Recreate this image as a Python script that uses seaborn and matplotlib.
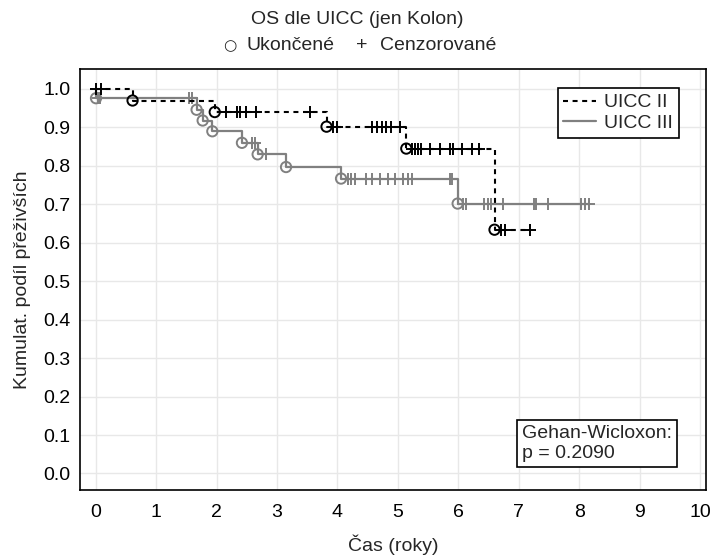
import numpy as np
import pandas as pd
import matplotlib
matplotlib.use("Agg")
import matplotlib.pyplot as plt
from matplotlib.lines import Line2D
import seaborn as sns

# ---- Kaplan-Meier estimates (time in years) ----
# UICC II: event times, survival after each event, censored times
ii_event_t = [0.61, 1.97, 3.82, 5.14, 6.60]
ii_event_s = [0.970, 0.940, 0.902, 0.845, 0.634]
ii_cens_t = [0.01, 0.09, 2.16, 2.33, 2.38, 2.49, 2.66, 3.54, 3.92, 4.00,
             4.58, 4.66, 4.74, 4.81, 4.89, 5.03, 5.24, 5.29, 5.34, 5.39,
             5.53, 5.69, 5.87, 5.91, 6.07, 6.22, 6.35, 6.71, 6.77, 7.18]

# UICC III
iii_event_t = [0.005, 1.67, 1.77, 1.93, 2.42, 2.68, 3.15, 4.06, 5.99]
iii_event_s = [0.976, 0.946, 0.918, 0.890, 0.860, 0.830, 0.797, 0.767, 0.702]
iii_cens_t = [0.03, 0.07, 1.55, 1.60, 2.59, 2.63, 2.82, 4.17, 4.23, 4.29,
              4.48, 4.58, 4.70, 4.83, 4.96, 5.08, 5.16, 5.24, 5.86, 5.90,
              6.08, 6.13, 6.43, 6.49, 6.55, 6.74, 7.26, 7.29, 7.48, 8.03,
              8.09, 8.17]

group_names = ["UICC II", "UICC III"]
x_ticks = list(range(0, 11))
y_ticks = [round(0.1 * i, 1) for i in range(0, 11)]

title = "OS dle UICC (jen Kolon)"
event_label = "Ukončené"
censor_label = "Cenzorované"
x_label = "Čas (roky)"
y_label = "Kumulat. podíl přeživších"
test_note = "Gehan-Wicloxon:\np = 0.2090"

FS = 14


def step_table(event_t, event_s, cens_t):
    t = [0.0] + list(event_t)
    s = [1.0] + list(event_s)
    end = max(max(cens_t), max(event_t))
    t.append(end)
    s.append(s[-1])
    return pd.DataFrame({"t": t, "s": s})


def surv_at(times, event_t, event_s):
    ev = np.asarray(event_t)
    sv = np.asarray(event_s)
    out = []
    for x in times:
        idx = np.searchsorted(ev, x, side="right") - 1
        out.append(1.0 if idx < 0 else float(sv[idx]))
    return out


sns.set_theme(style="whitegrid")
plt.rcParams["font.family"] = ["Liberation Sans", "DejaVu Sans"]

fig = plt.figure(figsize=(7.14, 5.6), dpi=100)
ax = fig.add_axes([80 / 714, 1 - 490 / 560, (706 - 80) / 714, (490 - 69) / 560])

styles = {
    "UICC II": dict(color="black", ls=(0, (2.4, 2.2)), lw=1.5, zorder=4),
    "UICC III": dict(color="#808080", ls="-", lw=1.6, zorder=3),
}
data = {
    "UICC II": (ii_event_t, ii_event_s, ii_cens_t),
    "UICC III": (iii_event_t, iii_event_s, iii_cens_t),
}

for name in ["UICC III", "UICC II"]:
    et, es, ct = data[name]
    st = styles[name]
    tab = step_table(et, es, ct)
    sns.lineplot(data=tab, x="t", y="s", ax=ax, drawstyle="steps-post",
                 color=st["color"], linestyle=st["ls"], linewidth=st["lw"],
                 zorder=st["zorder"], estimator=None, sort=False)
    ev = pd.DataFrame({"t": et, "s": es})
    sns.scatterplot(data=ev, x="t", y="s", ax=ax, marker="o", s=55,
                    facecolor="none", edgecolor=st["color"], linewidth=1.4,
                    zorder=st["zorder"] + 1)
    ce = pd.DataFrame({"t": ct, "s": surv_at(ct, et, es)})
    sns.scatterplot(data=ce, x="t", y="s", ax=ax, marker="+", s=70,
                    color=st["color"], linewidth=1.4, zorder=st["zorder"] + 1)

ax.set_xlim(-0.26, 10.1)
ax.set_ylim(-0.043, 1.052)
ax.set_xticks(x_ticks)
ax.set_yticks(y_ticks)
ax.set_yticklabels([f"{v:.1f}" for v in y_ticks])
ax.tick_params(axis="both", direction="in", length=5, width=1, color="black",
               labelsize=FS, labelcolor="black", pad=7)
ax.tick_params(axis="x", pad=10)
ax.grid(True, color="#e8e8e8", linewidth=1)
for sp in ax.spines.values():
    sp.set_visible(True)
    sp.set_color("black")
    sp.set_linewidth(1.2)
ax.set_facecolor("white")
ax.set_xlabel(x_label, fontsize=FS, labelpad=10)
ax.set_ylabel(y_label, fontsize=FS, labelpad=9)

handles = [Line2D([0], [0], color=styles[n]["color"], linestyle=styles[n]["ls"],
                  linewidth=styles[n]["lw"]) for n in group_names]
leg = ax.legend(handles, group_names, loc="upper right",
                bbox_to_anchor=(679 / 714, 1 - 88 / 560),
                bbox_transform=fig.transFigure, borderaxespad=0,
                fancybox=False, framealpha=1, edgecolor="black",
                fontsize=FS, handlelength=1.65, handletextpad=0.45,
                borderpad=0.3, labelspacing=0.15)
leg.get_frame().set_linewidth(1.2)

# title and marker key
fig.text(357 / 714, 1 - 20 / 560, title, ha="center", va="center", fontsize=FS)
fig.text(230 / 714, 1 - 46 / 560, "\u25cb", ha="center", va="center",
         fontsize=FS - 3, family=["DejaVu Sans"])
fig.text(246 / 714, 1 - 46 / 560, event_label, ha="left", va="center", fontsize=FS)
fig.text(362 / 714, 1 - 46 / 560, "+", ha="center", va="center", fontsize=FS)
fig.text(380 / 714, 1 - 46 / 560, censor_label, ha="left", va="center", fontsize=FS)

fig.text(522 / 714, 1 - 425 / 560, test_note, ha="left", va="top", fontsize=FS,
         linespacing=1.2,
         bbox=dict(boxstyle="square,pad=0.28", facecolor="white",
                   edgecolor="black", linewidth=1.2))

fig.savefig("out.png", dpi=100)
